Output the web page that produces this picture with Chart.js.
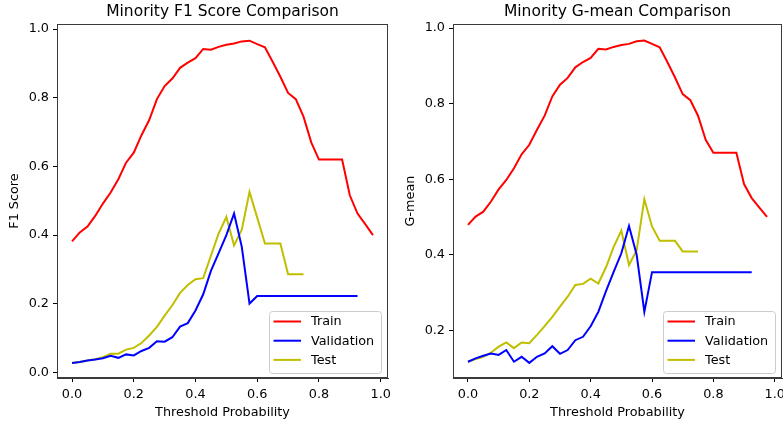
<!DOCTYPE html>
<html><head><meta charset="utf-8">
<script src="https://cdn.jsdelivr.net/npm/chart.js@4/dist/chart.umd.min.js"></script>
<style>
html,body{margin:0;padding:0;background:#fff;overflow:hidden}
#wrap{position:relative;width:783px;height:425px;background:#fff}
canvas{position:absolute;top:0}
</style></head><body>
<div id="wrap">
<canvas id="c1" width="392" height="425" style="left:0"></canvas>
<canvas id="c2" width="391" height="425" style="left:392px"></canvas>
</div>
<script>
// ---- data ----
const thresholds = [0,0.025,0.05,0.075,0.1,0.125,0.15,0.175,0.2,0.225,0.25,0.275,0.3,0.325,0.35,0.375,0.4,0.425,0.45,0.475,
  0.5,0.525,0.55,0.575,0.6,0.625,0.65,0.675,0.7,0.725,0.75,0.775,0.8,0.825,0.85,0.875,0.9,0.925,0.95,0.975];
const xTicks = [0,0.2,0.4,0.6,0.8,1.0];
const f1Ticks = [0,0.2,0.4,0.6,0.8,1.0];
const gTicks = [0.2,0.4,0.6,0.8,1.0];
const seriesNames = ['Train','Validation','Test'];

const f1Train = [0.382,0.408,0.425,0.456,0.492,0.524,0.563,0.611,0.640,0.691,0.735,0.796,0.834,0.856,0.887,0.902,0.915,0.942,0.940,0.948,
  0.954,0.958,0.964,0.966,0.956,0.947,0.905,0.861,0.814,0.796,0.745,0.670,0.620,0.620,0.620,0.620,0.516,0.463,0.432,0.400];
const f1Val = [0.028,0.031,0.035,0.038,0.042,0.049,0.043,0.053,0.050,0.063,0.072,0.091,0.090,0.103,0.134,0.144,0.181,0.228,0.296,0.348,
  0.400,0.463,0.366,0.201,0.223,0.223,0.223,0.223,0.223,0.223,0.223,0.223,0.223,0.223,0.223,0.223,0.223,0.223];
const f1Test = [0.028,0.031,0.035,0.039,0.045,0.055,0.055,0.067,0.072,0.086,0.108,0.133,0.166,0.196,0.232,0.255,0.272,0.275,0.340,0.405,
  0.453,0.370,0.416,0.526,0.451,0.376,0.376,0.376,0.286,0.286,0.286];

const gTrain = [0.479,0.501,0.514,0.541,0.573,0.598,0.629,0.666,0.691,0.731,0.768,0.819,0.850,0.868,0.896,0.910,0.921,0.945,0.943,0.950,
  0.955,0.958,0.965,0.967,0.958,0.949,0.910,0.869,0.825,0.809,0.768,0.704,0.670,0.670,0.670,0.670,0.587,0.550,0.525,0.500];
const gVal = [0.117,0.126,0.133,0.139,0.135,0.148,0.117,0.130,0.114,0.130,0.139,0.158,0.138,0.148,0.174,0.183,0.211,0.249,0.304,0.355,
  0.404,0.476,0.400,0.249,0.354,0.354,0.354,0.354,0.354,0.354,0.354,0.354,0.354,0.354,0.354,0.354,0.354,0.354];
const gTest = [0.117,0.124,0.130,0.141,0.157,0.168,0.153,0.168,0.166,0.188,0.211,0.236,0.263,0.289,0.320,0.323,0.337,0.324,0.367,0.421,
  0.464,0.373,0.412,0.547,0.475,0.437,0.437,0.437,0.409,0.409,0.409];

// ---- styling ----
const FONT = '"DejaVu Sans", sans-serif';
const COLORS = ['#ff0000','#0000ff','#bfbf00'];
const SPINE = '#3a3a3a';

const frame = {
  id: 'frame',
  afterDatasetsDraw(chart) {
    const {ctx, chartArea: a} = chart;
    ctx.save();
    ctx.strokeStyle = SPINE; ctx.lineWidth = 1;
    ctx.strokeRect(Math.round(a.left) + 0.5, Math.round(a.top) + 0.5, Math.round(a.right - a.left) - 1, Math.round(a.bottom - a.top) - 1);
    ctx.restore();
  }
};

const boxLegend = {
  id: 'boxLegend',
  afterDraw(chart) {
    const {ctx, chartArea: a} = chart;
    const w = 112, h = 62;
    const x = Math.round(a.right - 7 - w), y = Math.round(a.bottom - 5 - h);
    ctx.save();
    ctx.beginPath();
    if (ctx.roundRect) ctx.roundRect(x + 0.5, y + 0.5, w, h, 3); else ctx.rect(x + 0.5, y + 0.5, w, h);
    ctx.fillStyle = 'rgba(255,255,255,0.85)'; ctx.fill();
    ctx.strokeStyle = '#cccccc'; ctx.lineWidth = 1; ctx.stroke();
    ctx.font = '12.8px ' + FONT; ctx.textBaseline = 'middle'; ctx.textAlign = 'left';
    chart.data.datasets.forEach((ds, i) => {
      const cy = y + 10.5 + i * 19.2;
      ctx.strokeStyle = ds.borderColor; ctx.lineWidth = 2;
      ctx.beginPath(); ctx.moveTo(x + 4.5, cy); ctx.lineTo(x + 32, cy); ctx.stroke();
      ctx.fillStyle = '#000';
      ctx.fillText(ds.label, x + 42, cy + 0.5);
    });
    ctx.restore();
  }
};

function makeChart(id, o) {
  const sets = [o.train, o.val, o.test].map((arr, k) => ({
    label: seriesNames[k],
    data: arr.map((v, i) => ({x: thresholds[i], y: v})),
    borderColor: COLORS[k], backgroundColor: COLORS[k],
    borderWidth: 2, pointRadius: 0, tension: 0, fill: false
  }));
  const tickFont = {family: FONT, size: 12.8};
  return new Chart(document.getElementById(id), {
    type: 'line',
    data: {datasets: sets},
    options: {
      responsive: false, animation: false, events: [],
      layout: {padding: {left: 0, right: o.rightPad, top: 0, bottom: 0}},
      plugins: {
        legend: {display: false}, tooltip: {enabled: false},
        title: {display: true, text: o.title, fullSize: false, color: '#000',
          font: {family: FONT, size: 15.5, weight: 'normal'}, padding: {top: 2.7, bottom: 2.7}}
      },
      scales: {
        x: {
          type: 'linear', min: -0.04875, max: 1.02375,
          afterBuildTicks: s => { s.ticks = xTicks.map(v => ({value: v})); },
          afterFit: s => { s.height = 47; s.paddingLeft = 0; s.paddingRight = 0; },
          ticks: {autoSkip: false, maxRotation: 0, padding: 4.5, color: '#000', font: tickFont,
            callback: v => Number(v).toFixed(1)},
          grid: {drawOnChartArea: false, drawTicks: true, tickLength: 4, tickColor: '#000', tickWidth: 1},
          border: {display: true, color: SPINE, width: 1},
          title: {display: true, text: 'Threshold Probability', color: '#000', font: tickFont, padding: {top: 0, bottom: 5}}
        },
        y: {
          type: 'linear', min: o.yMin, max: o.yMax,
          afterBuildTicks: s => { s.ticks = o.yTicks.map(v => ({value: v})); },
          afterFit: s => { s.width = o.yWidth; s.paddingTop = 0; s.paddingBottom = 0; },
          ticks: {autoSkip: false, padding: 4, color: '#000', font: tickFont,
            callback: v => Number(v).toFixed(1)},
          grid: {drawOnChartArea: false, drawTicks: true, tickLength: 4, tickColor: '#000', tickWidth: 1},
          border: {display: true, color: SPINE, width: 1},
          title: {display: true, text: o.yLabel, color: '#000', font: tickFont, padding: {top: o.yTitlePad, bottom: 0}}
        }
      }
    },
    plugins: [frame, boxLegend]
  });
}

makeChart('c1', {title: 'Minority F1 Score Comparison', yLabel: 'F1 Score',
  train: f1Train, val: f1Val, test: f1Test, yMin: -0.0157, yMax: 1.0146, yTicks: f1Ticks,
  yWidth: 57, yTitlePad: 7, rightPad: 4});
makeChart('c2', {title: 'Minority G-mean Comparison', yLabel: 'G-mean',
  train: gTrain, val: gVal, test: gTest, yMin: 0.074, yMax: 1.0106, yTicks: gTicks,
  yWidth: 61, yTitlePad: 10.5, rightPad: 1});
</script>
</body></html>
